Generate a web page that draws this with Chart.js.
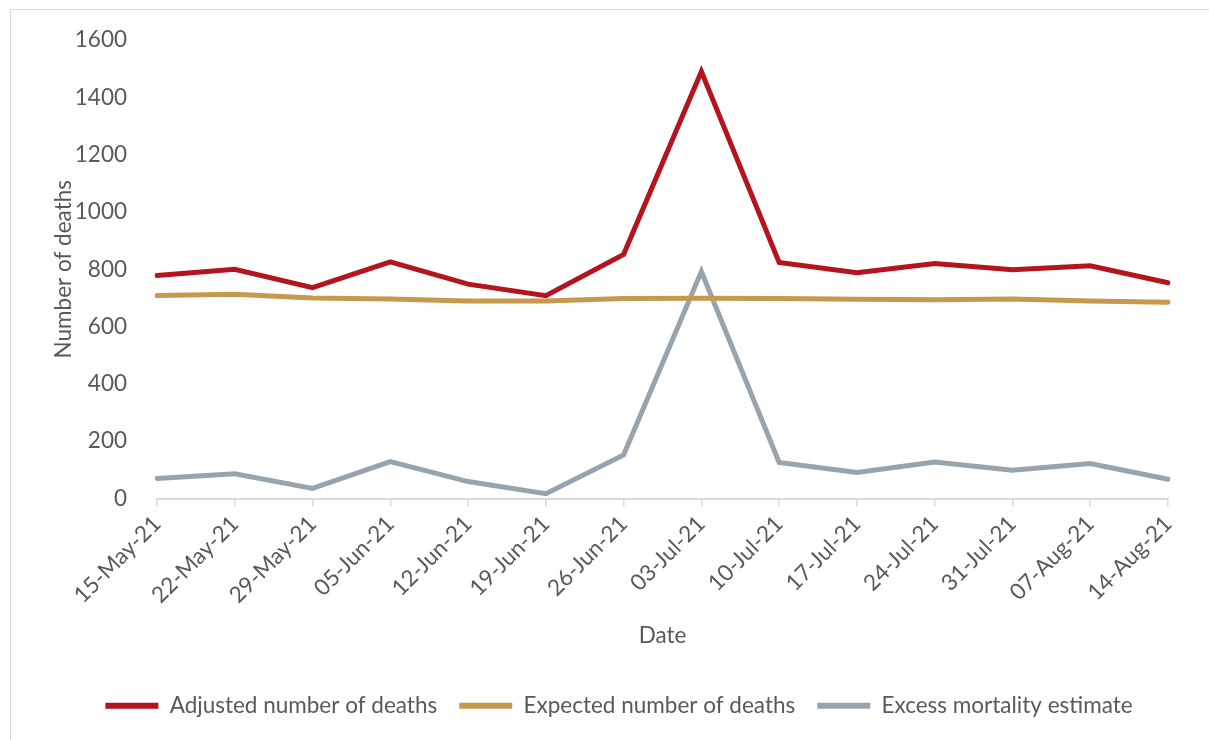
<!DOCTYPE html>
<html>
<head>
<meta charset="utf-8">
<script src="https://cdn.jsdelivr.net/npm/chart.js@4"></script>
<style>
html,body{margin:0;padding:0;background:#fff;overflow:hidden}
#frame{position:absolute;left:10px;top:9px;width:1300px;height:800px;border:1px solid #d9d9d9}
#wrap{position:absolute;left:0;top:0;width:1209px;height:770px}
</style>
</head>
<body>
<div id="frame"></div>
<div id="wrap"><canvas id="c"></canvas></div>
<script>
// ===== DATA =====
const dates=['15-May-21','22-May-21','29-May-21','05-Jun-21','12-Jun-21','19-Jun-21','26-Jun-21','03-Jul-21','10-Jul-21','17-Jul-21','24-Jul-21','31-Jul-21','07-Aug-21','14-Aug-21'];
const adjusted=[778,800,736,826,748,708,852,1490,824,788,820,798,812,753];
const expected=[708,713,700,696,689,689,698,699,698,695,694,696,689,685];
const excess=[70,86,35,129,59,17,152,792,126,91,127,99,122,67];
const yTicks=[0,200,400,600,800,1000,1200,1400,1600];

const RED='#B3141E',TAN='#C6994F',GREY='#97A4AD',TXT='#595959',AX='#d9d9d9';
Chart.defaults.font.family="'Lato',sans-serif";
Chart.defaults.font.size=22.5;
Chart.defaults.color=TXT;

const line=(label,data,col)=>({label,data,borderColor:col,backgroundColor:col,borderWidth:5,pointRadius:0,tension:0,borderCapStyle:'round'});

new Chart(document.getElementById('c'),{type:'line',
  data:{labels:dates,datasets:[
    line('Adjusted number of deaths',adjusted,RED),
    line('Expected number of deaths',expected,TAN),
    line('Excess mortality estimate',excess,GREY)
  ]},
  options:{responsive:true,maintainAspectRatio:false,animation:false,
    layout:{padding:{left:70,right:41,top:40,bottom:43}},
    plugins:{tooltip:{enabled:false},
      legend:{position:'bottom',labels:{boxWidth:53,boxHeight:6,padding:22,
        generateLabels:ch=>ch.data.datasets.map((d,i)=>({text:d.label,fillStyle:d.borderColor,strokeStyle:d.borderColor,lineWidth:0,datasetIndex:i,fontColor:TXT}))}}},
    scales:{
      x:{offset:false,
        grid:{display:true,drawOnChartArea:false,drawTicks:true,tickLength:8,color:AX,lineWidth:1.5},
        border:{display:true,color:AX,width:2},
        ticks:{maxRotation:45,minRotation:45,autoSkip:false,padding:4},
        title:{display:true,text:'Date',padding:{top:0,bottom:23}},
        afterFit:s=>{s.height=174;}
      },
      y:{min:0,max:1600,
        afterBuildTicks:s=>{s.ticks=yTicks.map(v=>({value:v}));},
        grid:{display:false},border:{display:false},
        ticks:{padding:22,callback:v=>String(v)},
        title:{display:true,text:'Number of deaths',padding:{top:-20,bottom:4}},
        afterFit:s=>{s.width=87;}
      }
    }
  }
});
</script>
</body>
</html>
